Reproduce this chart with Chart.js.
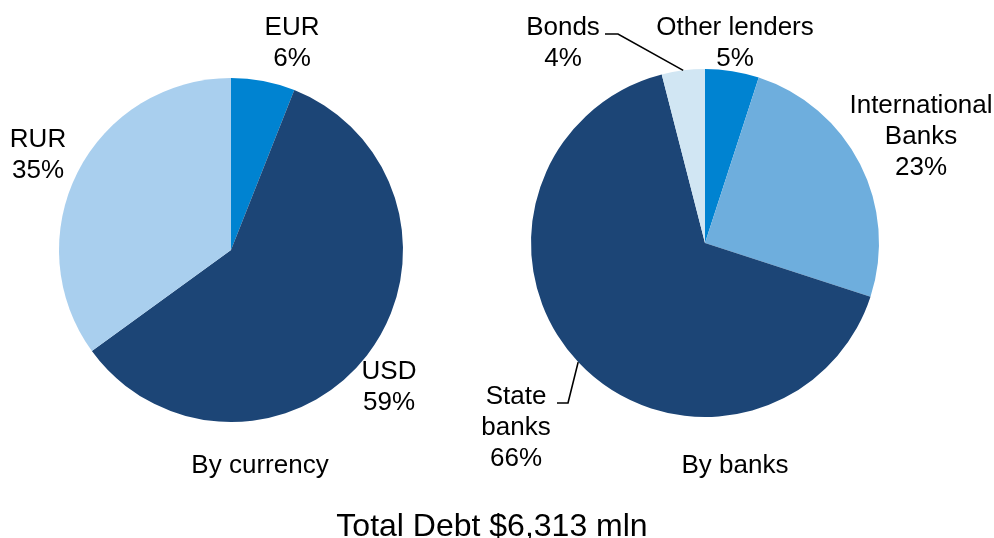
<!DOCTYPE html>
<html>
<head>
<meta charset="utf-8">
<script src="https://cdn.jsdelivr.net/npm/chart.js@4"></script>
<style>
    html, body { margin: 0; padding: 0; background: #fff; }
    #wrap { position: relative; width: 994px; height: 538px; }
    #wrap canvas { position: absolute; left: 0; top: 0; }
</style>
</head>
<body>
<div id="wrap">
    <canvas id="currency-chart" width="994" height="538"></canvas>
    <canvas id="banks-chart" width="994" height="538"></canvas>
</div>
<script>
// 数据 - 按币种
const currencyNames = ['EUR', 'USD', 'RUR'];
const currencyShares = [6, 59, 35];
const currencyLabels = ['6%', '59%', '35%'];
const currencyColors = ['#0083D1', '#1C4576', '#A9CFEE'];

// 数据 - 按银行
const bankNames = ['Other lenders', 'International|Banks', 'State|banks', 'Bonds'];
const bankShares = [5, 25, 66, 4];
const bankLabels = ['5%', '23%', '66%', '4%'];
const bankColors = ['#0083D1', '#6EAEDD', '#1C4576', '#D1E6F3'];

const FONT = '"Liberation Sans", Arial, sans-serif';

// 标签插件: 文字 + 引导线
const pieLabels = {
    id: 'pieLabels',
    afterDraw(chart, args, opts) {
        const ctx = chart.ctx;
        const meta = chart.getDatasetMeta(0);
        ctx.save();
        ctx.fillStyle = '#000';
        ctx.textAlign = 'center';
        ctx.textBaseline = 'alphabetic';
        (opts.items || []).forEach(item => {
            ctx.font = (item.size || 26) + 'px ' + FONT;
            item.lines.forEach((line, i) => {
                ctx.fillText(line, item.x, item.y + i * 31);
            });
            if (item.leader) {
                const el = meta.data[item.index];
                const mid = (el.startAngle + el.endAngle) / 2;
                const ex = el.x + Math.cos(mid) * el.outerRadius;
                const ey = el.y + Math.sin(mid) * el.outerRadius;
                ctx.beginPath();
                ctx.strokeStyle = '#000';
                ctx.lineWidth = 1.6;
                ctx.moveTo(item.leader[0][0], item.leader[0][1]);
                for (let k = 1; k < item.leader.length; k++) {
                    ctx.lineTo(item.leader[k][0], item.leader[k][1]);
                }
                ctx.lineTo(ex, ey);
                ctx.stroke();
            }
        });
        ctx.restore();
    }
};

function pieOptions(padding, items) {
    return {
        responsive: false,
        animation: false,
        layout: { padding: padding },
        plugins: {
            legend: { display: false },
            tooltip: { enabled: false },
            pieLabels: { items: items }
        }
    };
}

// 按币种
new Chart(document.getElementById('currency-chart'), {
    type: 'pie',
    data: {
        labels: currencyNames,
        datasets: [{
            data: currencyShares,
            backgroundColor: currencyColors,
            borderWidth: 0
        }]
    },
    options: pieOptions({ left: 59, right: 591, top: 78, bottom: 116 }, [
        { lines: [currencyNames[0], currencyLabels[0]], x: 292, y: 35 },
        { lines: [currencyNames[1], currencyLabels[1]], x: 389, y: 379 },
        { lines: [currencyNames[2], currencyLabels[2]], x: 38, y: 147 },
        { lines: ['By currency'], x: 260, y: 473 }
    ]),
    plugins: [pieLabels]
});

// 按银行
new Chart(document.getElementById('banks-chart'), {
    type: 'pie',
    data: {
        labels: bankNames.map(n => n.replace('|', ' ')),
        datasets: [{
            data: bankShares,
            backgroundColor: bankColors,
            borderWidth: 0
        }]
    },
    options: pieOptions({ left: 531, right: 115, top: 69, bottom: 121 }, [
        { lines: [...bankNames[0].split('|'), bankLabels[0]], x: 735, y: 35 },
        { lines: [...bankNames[1].split('|'), bankLabels[1]], x: 921, y: 113 },
        { lines: [...bankNames[2].split('|'), bankLabels[2]], x: 516, y: 404, index: 2,
          leader: [[557, 403], [568, 403]] },
        { lines: [...bankNames[3].split('|'), bankLabels[3]], x: 563, y: 35, index: 3,
          leader: [[605, 34], [618, 34]] },
        { lines: ['By banks'], x: 735, y: 473 },
        { lines: ['Total Debt $6,313 mln'], x: 492, y: 536, size: 32 }
    ]),
    plugins: [pieLabels]
});
</script>
</body>
</html>
